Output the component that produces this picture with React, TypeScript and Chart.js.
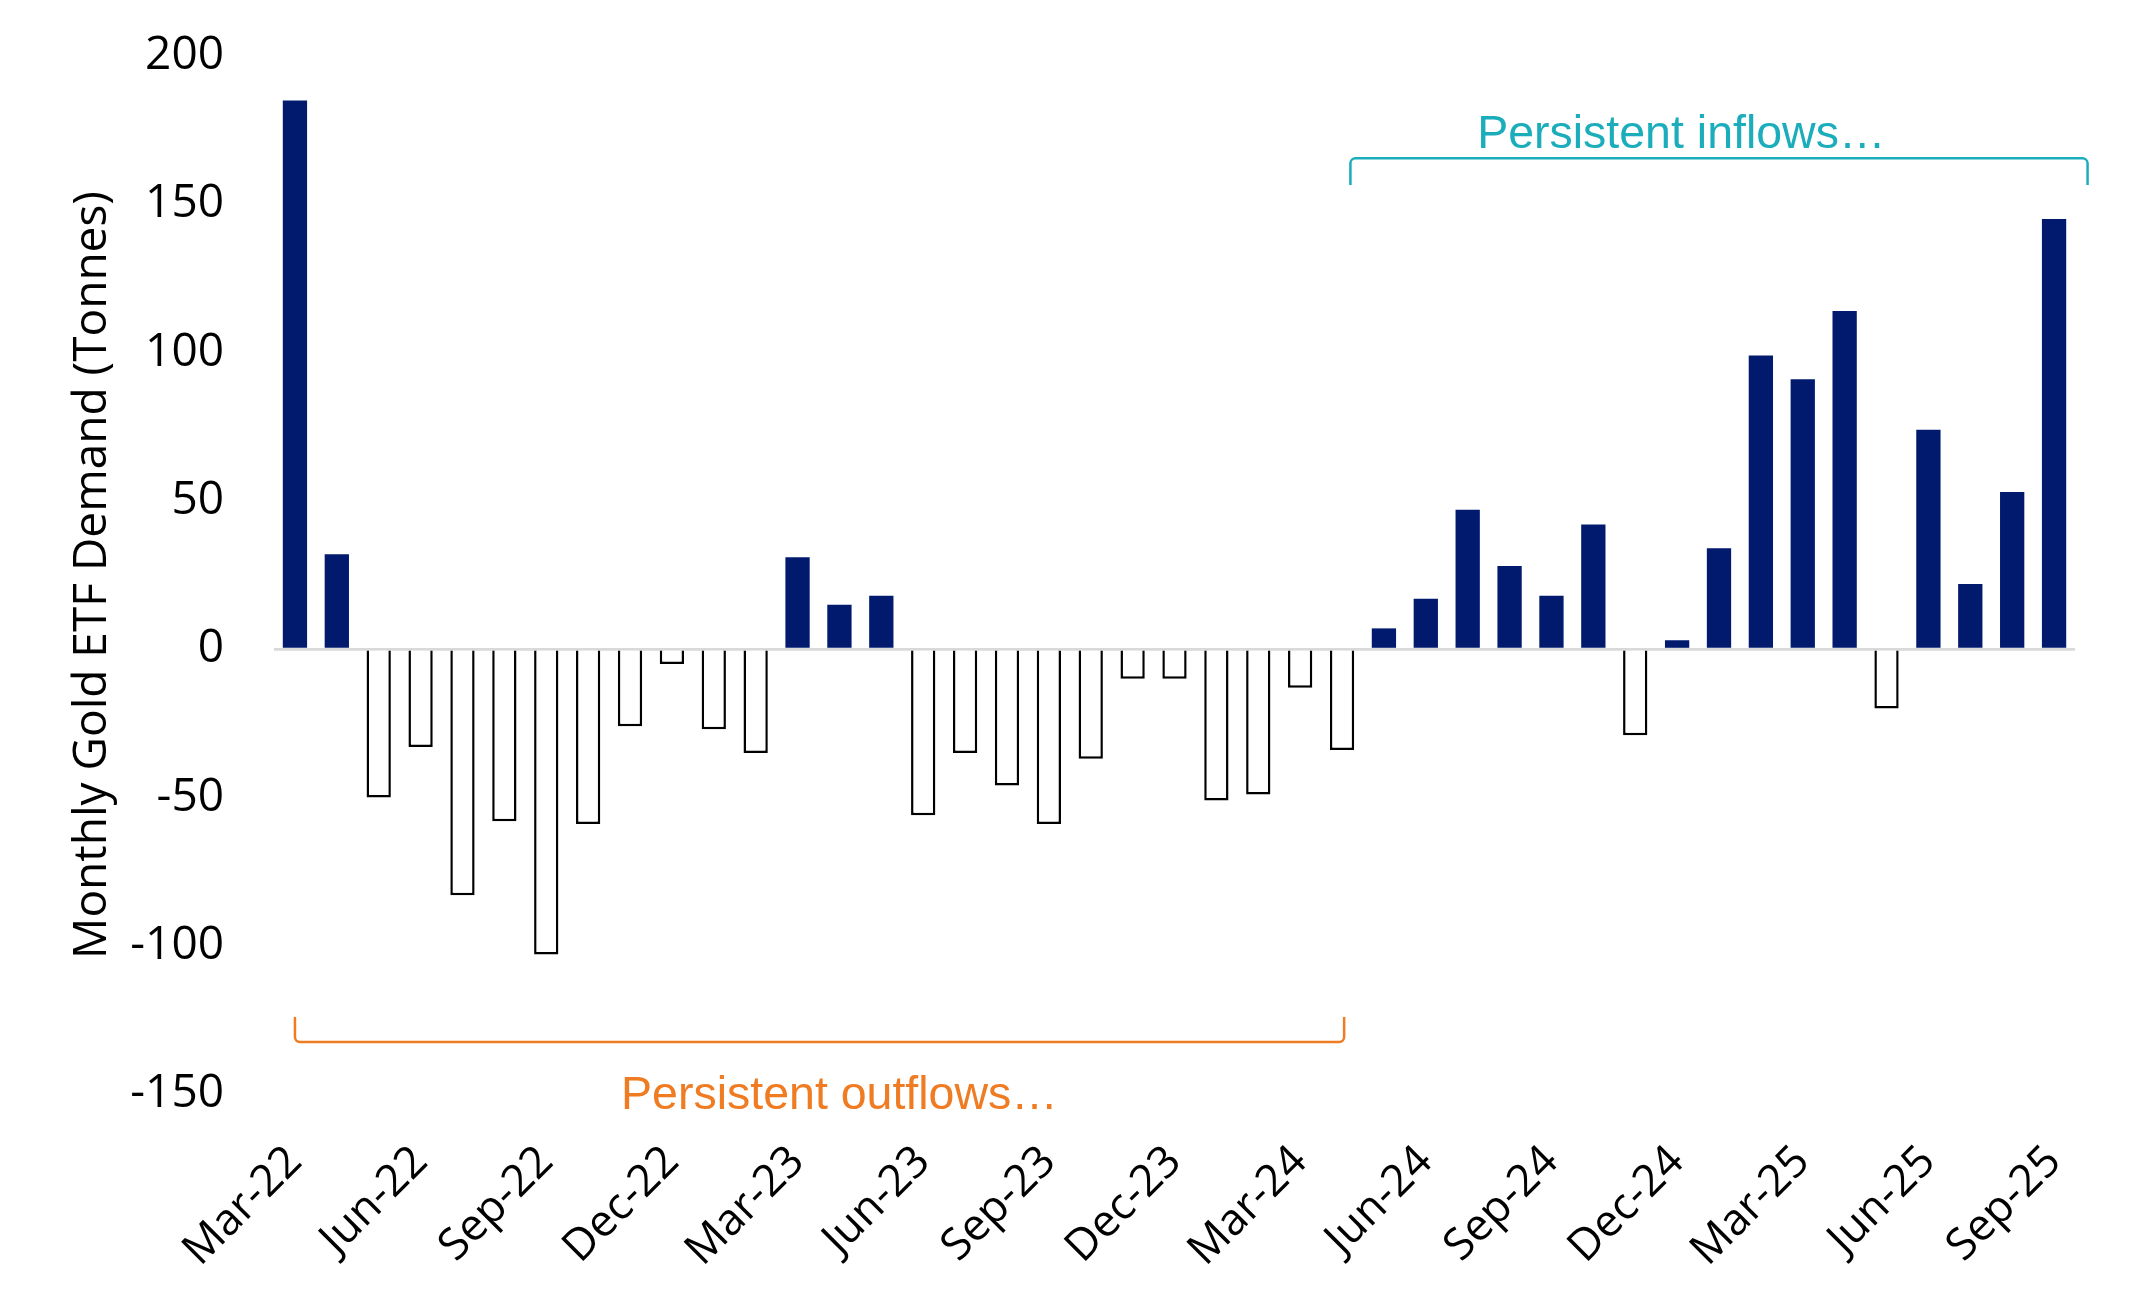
import { useEffect, useRef } from 'react'
import { Chart, registerables } from 'chart.js'

Chart.register(...registerables)

const months = [
  'Mar-22', 'Apr-22', 'May-22', 'Jun-22', 'Jul-22', 'Aug-22', 'Sep-22', 'Oct-22', 'Nov-22', 'Dec-22',
  'Jan-23', 'Feb-23', 'Mar-23', 'Apr-23', 'May-23', 'Jun-23', 'Jul-23', 'Aug-23', 'Sep-23', 'Oct-23', 'Nov-23', 'Dec-23',
  'Jan-24', 'Feb-24', 'Mar-24', 'Apr-24', 'May-24', 'Jun-24', 'Jul-24', 'Aug-24', 'Sep-24', 'Oct-24', 'Nov-24', 'Dec-24',
  'Jan-25', 'Feb-25', 'Mar-25', 'Apr-25', 'May-25', 'Jun-25', 'Jul-25', 'Aug-25', 'Sep-25'
]

// tonnes per month
const demand = [
  185, 32, -50, -33, -83, -58, -103, -59, -26, -5,
  -27, -35, 31, 15, 18, -56, -35, -46, -59, -37, -10, -10,
  -51, -49, -13, -34, 7, 17, 47, 28, 18, 42, -29, 3,
  34, 99, 91, 114, -20, 74, 22, 53, 145
]

const yTicks = [-150, -100, -50, 0, 50, 100, 150, 200]
const labelEvery = 3

const NAVY = '#011a6e'
const TEAL = '#1badbb'
const ORANGE = '#ef7b22'

// bracket annotations, in category index / tonnes
const brackets = [
  { text: 'Persistent inflows…', color: TEAL, from: 25.2, to: 42.8, line: 165.5, end: 156.5, textAt: 33.1, textY: 169 },
  { text: 'Persistent outflows…', color: ORANGE, from: 0, to: 25.05, line: -132.5, end: -124, textAt: 13.0, textY: -155 }
]

const bracketPlugin = {
  id: 'brackets',
  afterDatasetsDraw(chart: Chart) {
    const { ctx } = chart
    const x = chart.scales.x
    const y = chart.scales.y
    ctx.save()
    for (const b of brackets) {
      const x1 = x.getPixelForValue(b.from)
      const x2 = x.getPixelForValue(b.to)
      const yl = y.getPixelForValue(b.line)
      const ye = y.getPixelForValue(b.end)
      ctx.strokeStyle = b.color
      ctx.lineWidth = 2.5
      ctx.lineJoin = 'round'
      ctx.beginPath()
      ctx.moveTo(x1, ye)
      ctx.arcTo(x1, yl, x2, yl, 5)
      ctx.arcTo(x2, yl, x2, ye, 5)
      ctx.lineTo(x2, ye)
      ctx.stroke()
      ctx.fillStyle = b.color
      ctx.font = '46.5px "Liberation Sans"'
      ctx.textAlign = 'center'
      ctx.textBaseline = 'alphabetic'
      ctx.fillText(b.text, x.getPixelForValue(b.textAt), y.getPixelForValue(b.textY))
    }
    ctx.restore()
  }
}

export default function App() {
  const chartRef = useRef<HTMLCanvasElement>(null)
  const chartInstance = useRef<Chart | null>(null)

  useEffect(() => {
    document.body.style.margin = '0'
    document.body.style.overflow = 'hidden'
    if (!chartRef.current) return
    if (chartInstance.current) chartInstance.current.destroy()

    const ctx = chartRef.current.getContext('2d')
    if (!ctx) return

    chartInstance.current = new Chart(ctx, {
      type: 'bar',
      data: {
        labels: months,
        datasets: [
          {
            label: 'Monthly Gold ETF Demand',
            data: demand,
            backgroundColor: demand.map((v) => (v >= 0 ? NAVY : '#ffffff')),
            borderColor: demand.map((v) => (v >= 0 ? NAVY : '#000000')),
            borderWidth: demand.map((v) => (v >= 0 ? 0 : 2.5)),
            categoryPercentage: 1,
            barPercentage: 0.58
          }
        ]
      },
      options: {
        responsive: false,
        animation: false,
        devicePixelRatio: 1,
        color: '#000',
        layout: { padding: { top: 56, right: 70, bottom: 0, left: 0 } },
        plugins: {
          legend: { display: false },
          tooltip: { enabled: false }
        },
        scales: {
          x: {
            grid: { display: false, drawTicks: false },
            border: { display: false },
            afterFit: (scale) => {
              scale.height = 214
            },
            ticks: {
              autoSkip: false,
              minRotation: 45,
              maxRotation: 45,
              padding: 42,
              color: '#000',
              font: { family: '"Open Sans"', size: 44 },
              callback: (_v, i) => (i % labelEvery === 0 ? months[i] : '')
            }
          },
          y: {
            min: yTicks[0],
            max: yTicks[yTicks.length - 1],
            z: 1,
            afterFit: (scale) => {
              scale.width = 274
              // keep tick padding from pushing the plot area in
              scale.paddingTop = 0
              scale.paddingBottom = 0
            },
            afterBuildTicks: (scale) => {
              scale.ticks = yTicks.map((value) => ({ value }))
            },
            border: { display: false },
            grid: {
              drawTicks: false,
              lineWidth: 2.7,
              color: (c) => (c.tick && c.tick.value === 0 ? '#d9d9d9' : 'rgba(0,0,0,0)')
            },
            ticks: {
              padding: 50,
              color: '#000',
              font: { family: '"Open Sans"', size: 46 }
            },
            title: {
              display: true,
              text: 'Monthly Gold ETF Demand (Tonnes)',
              color: '#000',
              padding: { top: 65, bottom: 0 },
              font: { family: '"Open Sans"', size: 46 }
            }
          }
        }
      },
      plugins: [bracketPlugin]
    })

    return () => {
      if (chartInstance.current) {
        chartInstance.current.destroy()
        chartInstance.current = null
      }
    }
  }, [])

  return (
    <div style={{ width: 2145, height: 1308, background: '#fff' }}>
      <canvas ref={chartRef} width={2145} height={1308} />
    </div>
  )
}
